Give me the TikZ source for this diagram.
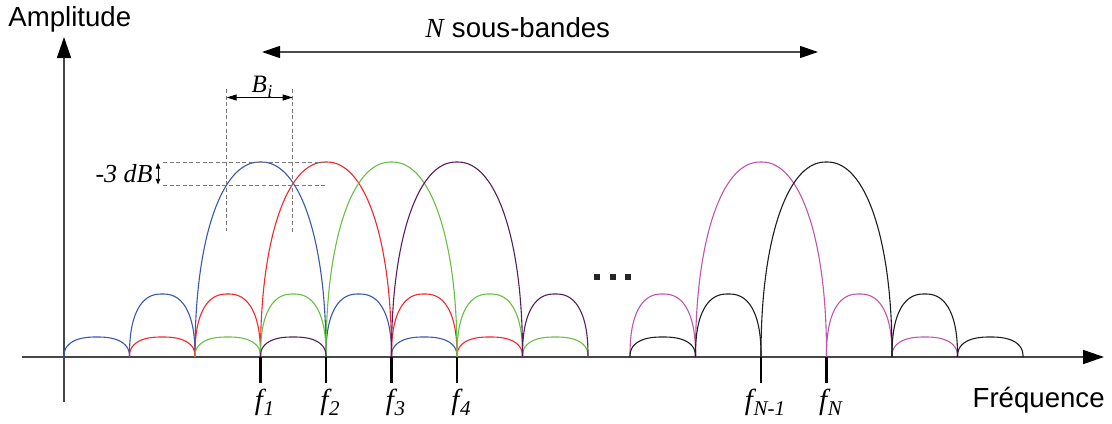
\documentclass[tikz,border=0pt]{standalone}
\usepackage{fontspec}
\setmainfont{Liberation Serif}
\newfontfamily\sansf{Liberation Sans}
\usetikzlibrary{arrows.meta}
\definecolor{cblue}{RGB}{55,88,172}
\definecolor{cred}{RGB}{240,40,45}
\definecolor{cgreen}{RGB}{105,190,70}
\definecolor{cpurple}{RGB}{88,30,92}
\definecolor{cmag}{RGB}{192,84,174}
\definecolor{cblack}{RGB}{30,30,30}
\definecolor{axisgray}{RGB}{70,70,70}
\definecolor{dashgray}{RGB}{120,120,120}
% #1 colour, #2 start, #3 half width, #4 height, #5 exponent
\newcommand\slobe[5]{\draw[lobe,#1] plot[domain=0:180,samples=91,smooth] ({#2+#3+#3*((cos(\x)<0)?(-1):(1))*pow(abs(cos(\x))+0.00001,#5)},{357-#4*pow(abs(sin(\x))+0.00001,#5)});}
\newcommand\mainlobe[2]{\slobe{#1}{#2}{65.5}{195}{0.92}}
\newcommand\midlobe[2]{\slobe{#1}{#2}{32.75}{63}{0.82}}
\newcommand\lowlobe[2]{\slobe{#1}{#2}{32.75}{20}{0.82}}
\newcommand\fsub[1]{\textit{f}\kern0.3pt\raisebox{-0.5ex}{\fontsize{10.5}{11}\selectfont\itshape #1}}
\begin{document}
\begin{tikzpicture}[x=0.5pt,y=-0.5pt,
  lobe/.style={line width=0.55pt},
  axisarrow/.style={draw=axisgray,line width=0.8pt,-{Triangle[length=10.5pt,width=7pt,fill=black,color=black]}},
  guide/.style={draw=dashgray,line width=0.5pt,dash pattern=on 2pt off 1.3pt},
  tickline/.style={draw=black,line width=1.1pt},
  ital/.style={font=\fontsize{13}{15}\selectfont\itshape,inner sep=0pt},
  flbl/.style={font=\fontsize{14.5}{16}\selectfont\itshape,inner sep=0pt},
  sanslbl/.style={font=\sansf\fontsize{13.8}{16}\selectfont,inner sep=0pt},
  dotbox/.style={fill=black!85,minimum size=2.6pt,inner sep=0pt,draw=none,rectangle}]
\useasboundingbox (0,0) rectangle (1112,423);

% axes
\coordinate (xs) at (22,357);
\coordinate (xe) at (1104,357);
\coordinate (ys) at (64,402);
\coordinate (ye) at (64,37);
\draw[axisarrow] (xs) -- (xe);
\draw[axisarrow] (ys) -- (ye);
\node[sanslbl,anchor=base west] (amp) at (8,26) {Amplitude};
\node[sanslbl,anchor=base east] (freq) at (1105,407) {Fréquence};

% blue (f1)
\lowlobe{cblue}{64}
\midlobe{cblue}{129.5}
\mainlobe{cblue}{195}
\midlobe{cblue}{326}
\lowlobe{cblue}{391.5}
% red (f2)
\lowlobe{cred}{129.5}
\midlobe{cred}{195}
\mainlobe{cred}{260.5}
\midlobe{cred}{391.5}
\lowlobe{cred}{457}
% green (f3)
\lowlobe{cgreen}{195}
\midlobe{cgreen}{260.5}
\mainlobe{cgreen}{326}
\midlobe{cgreen}{457}
\lowlobe{cgreen}{522.5}
% purple (f4)
\lowlobe{cpurple}{260.5}
\mainlobe{cpurple}{391.5}
\midlobe{cpurple}{522.5}
% magenta (fN-1)
\midlobe{cmag}{630}
\mainlobe{cmag}{695.5}
\midlobe{cmag}{826.5}
\lowlobe{cmag}{892}
% black (fN)
\lowlobe{cblack}{630}
\midlobe{cblack}{695.5}
\mainlobe{cblack}{761}
\midlobe{cblack}{892}
\lowlobe{cblack}{957.5}

% ticks and labels
\foreach \p/\n/\t in {260.5/1/\fsub{1}, 326/2/\fsub{2}, 391.5/3/\fsub{3}, 457/4/\fsub{4}, 761/5/\fsub{N-1}, 826.5/6/\fsub{N}}{
  \coordinate (ta\n) at (\p,357);
  \coordinate (tb\n) at (\p,383);
  \draw[tickline] (ta\n) -- (tb\n);
  \node[flbl,anchor=base] (fl\n) at (\p+4,409) {\t};
}

% dots
\node[dotbox] (d1) at (597,277) {};
\node[dotbox] (d2) at (613,277) {};
\node[dotbox] (d3) at (628,277) {};

% N sous-bandes
\coordinate (nl) at (262,52);
\coordinate (nr) at (818,52);
\draw[draw=black!70,line width=0.6pt,{Triangle[length=9pt,width=6pt,color=black]}-{Triangle[length=9pt,width=6pt,color=black]}] (nl) -- (nr);
\node[inner sep=0pt,anchor=base west,font=\fontsize{13.8}{16}\selectfont] (nsb) at (425,37) {\textit{N} {\sansf sous-bandes}};

% Bi
\coordinate (bl1) at (226.7,89);
\coordinate (bl2) at (226.7,231);
\coordinate (br1) at (292.7,89);
\coordinate (br2) at (292.7,233);
\draw[guide] (bl1) -- (bl2);
\draw[guide] (br1) -- (br2);
\coordinate (ba) at (226.7,97.5);
\coordinate (bb) at (292.7,97.5);
\draw[line width=0.5pt,{Triangle[length=5pt,width=3pt]}-{Triangle[length=5pt,width=3pt]}] (ba) -- (bb);
\node[ital,anchor=base,font=\fontsize{12.5}{14}\selectfont\itshape] (bi) at (262,92) {B\kern0.3pt\raisebox{-0.5ex}{\fontsize{9}{10}\selectfont\itshape i}};

% -3 dB
\coordinate (h1a) at (163,162.5);
\coordinate (h1b) at (326,162.5);
\coordinate (h2a) at (163,185);
\coordinate (h2b) at (326,185);
\draw[guide] (h1a) -- (h1b);
\draw[guide] (h2a) -- (h2b);
\coordinate (da) at (158,163);
\coordinate (db) at (158,184.5);
\draw[line width=0.4pt,{Triangle[length=2.8pt,width=2.2pt]}-{Triangle[length=2.8pt,width=2.2pt]}] (da) -- (db);
\node[ital,anchor=base east] (db3) at (153,182) {-3 dB};
\end{tikzpicture}
\end{document}
